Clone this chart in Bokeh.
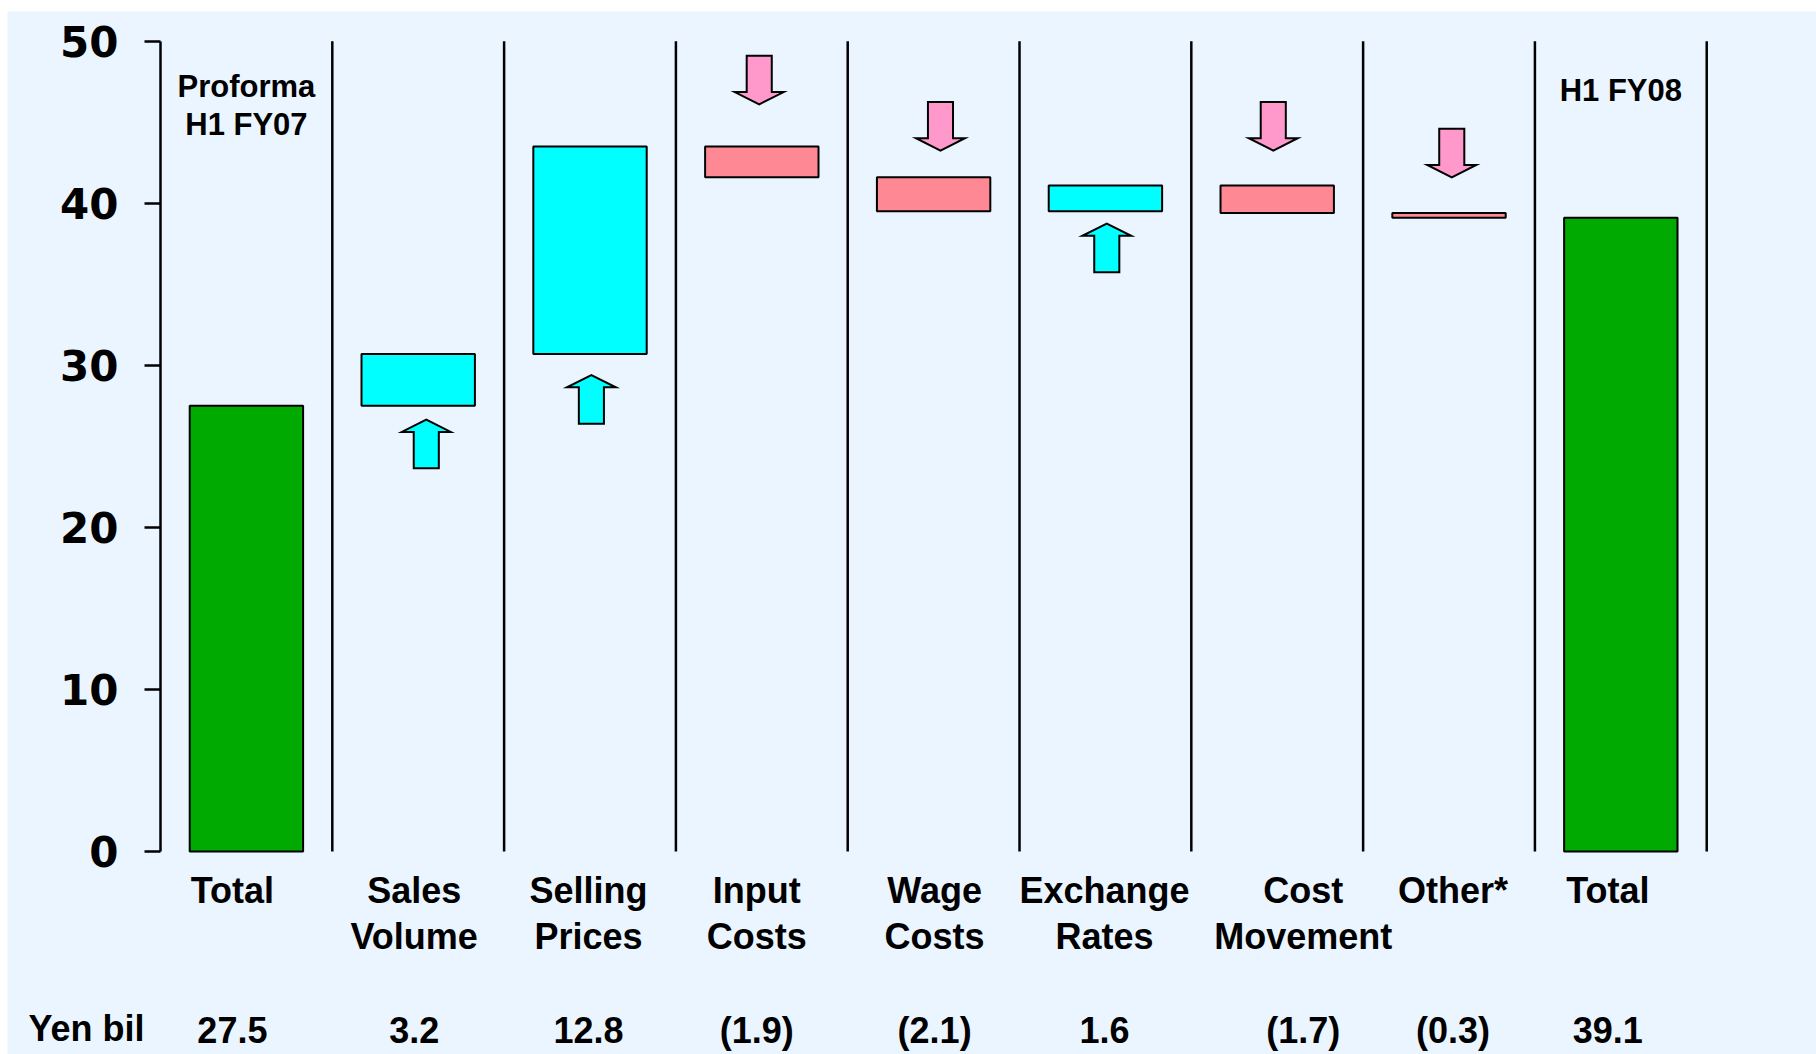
from bokeh.plotting import figure
from bokeh.models import FixedTicker
from bokeh.core.properties import value
from bokeh.embed import file_html
from bokeh.resources import INLINE

# ---- data -------------------------------------------------------------
categories = ["Total", "Sales\nVolume", "Selling\nPrices", "Input\nCosts", "Wage\nCosts",
              "Exchange\nRates", "Cost\nMovement", "Other*", "Total"]
changes = [27.5, 3.2, 12.8, -1.9, -2.1, 1.6, -1.7, -0.3, 39.1]
is_total = [True, False, False, False, False, False, False, False, True]
arrow_tips = [None, 26.65, 29.4, 46.1, 43.25, 38.75, 43.25, 41.6, None]
period_notes = ["Proforma\nH1 FY07", "", "", "", "", "", "", "", "H1 FY08"]
y_ticks = [0, 10, 20, 30, 40, 50]
unit_label = "Yen bil"

# ---- styling / layout -------------------------------------------------
BG = "#EBF5FF"
GREEN = "#00AA00"
CYAN = "#00FFFF"
RED_BAR = "#FF8895"
PINK_ARROW = "#FF99CC"
FONT = value("Liberation Sans")

BAR_W = 0.66
ARROW_LEN = 3.0
HEAD_LEN = 0.76
SHAFT_W = 0.146
HEAD_W = 0.285
arrow_nudge = [0, 0.047, 0.008, -0.015, 0.04, 0.008, -0.023, 0.016, 0]
label_nudge_px = [-14, -4, -1.5, -5, 1, -1, 26, 4, -13]

n = len(categories)
xs = list(range(n))

# waterfall geometry
bottoms, tops, fills = [], [], []
running = 0.0
for c, tot in zip(changes, is_total):
    if tot:
        bottoms.append(0.0)
        tops.append(c)
        fills.append(GREEN)
        running = c
    else:
        new = running + c
        bottoms.append(min(running, new))
        tops.append(max(running, new))
        fills.append(CYAN if c > 0 else RED_BAR)
        running = new

# the frame fills the whole canvas; the value axis sits at the left edge of the first column
p = figure(width=1809, height=1043, x_range=(-1.3906, 9.139), y_range=(-12.52, 51.83),
           x_axis_location=None, output_backend="svg", toolbar_location=None,
           min_border=0, background_fill_color=BG, border_fill_color=BG,
           outline_line_color=None)
p.margin = (11, 0, 0, 7)
p.grid.visible = False

# y axis
ax = p.yaxis[0]
ax.fixed_location = -0.5
ax.ticker = FixedTicker(ticks=y_ticks, minor_ticks=[])
ax.bounds = (0, 50)
ax.axis_line_width = 2.5
ax.axis_line_color = "black"
ax.major_tick_line_width = 2.5
ax.major_tick_line_color = "black"
ax.major_tick_out = 16
ax.major_tick_in = 0
ax.minor_tick_out = 0
ax.minor_tick_in = 0
ax.major_label_standoff = 26
ax.major_label_text_font = "DejaVu Sans"
ax.major_label_text_font_style = "bold"
ax.major_label_text_font_size = "42px"
ax.major_label_text_color = "black"

# column separators
sep_x = [i + 0.5 for i in xs]
p.segment(x0=sep_x, y0=[0] * n, x1=sep_x, y1=[50] * n, line_color="black", line_width=2.5)

# bars
p.quad(left=[x - BAR_W / 2 for x in xs], right=[x + BAR_W / 2 for x in xs],
       bottom=bottoms, top=tops, fill_color=fills, line_color="black", line_width=2)

# block arrows
a_xs, a_ys, a_fill = [], [], []
for i, (tip, c) in enumerate(zip(arrow_tips, changes)):
    if tip is None:
        continue
    cx = i + arrow_nudge[i]
    d = 1 if c > 0 else -1
    base = tip - d * ARROW_LEN
    neck = tip - d * HEAD_LEN
    a_xs.append([cx - SHAFT_W / 2, cx + SHAFT_W / 2, cx + SHAFT_W / 2, cx + HEAD_W / 2,
                 cx, cx - HEAD_W / 2, cx - SHAFT_W / 2])
    a_ys.append([base, base, neck, neck, tip, neck, neck])
    a_fill.append(CYAN if c > 0 else PINK_ARROW)
p.patches(a_xs, a_ys, fill_color=a_fill, line_color="black", line_width=2, line_join="miter")

text_style = dict(text_baseline="alphabetic", text_font=FONT, text_font_style="bold",
                  text_color="black")

# category labels (two lines)
line1 = [c.split("\n")[0] for c in categories]
line2 = [c.split("\n")[1] if "\n" in c else "" for c in categories]
p.text(x=xs, y=[-2.395] * n, text=line1, x_offset=label_nudge_px, text_align="center",
       text_font_size="36px", **text_style)
p.text(x=xs, y=[-5.215] * n, text=line2, x_offset=label_nudge_px, text_align="center",
       text_font_size="36px", **text_style)

# value row
def fmt(v):
    return f"({abs(v):.1f})" if v < 0 else f"{v:.1f}"

p.text(x=xs, y=[-11.015] * n, text=[fmt(v) for v in changes], x_offset=label_nudge_px,
       text_align="center", text_font_size="36px", **text_style)
p.text(x=[-1.2684], y=[-10.9], text=[unit_label], text_align="left",
       text_font_size="36px", **text_style)

# period notes inside the total columns
note_x, note_y, note_t = [], [], []
for i, note in enumerate(period_notes):
    if not note:
        continue
    parts = note.split("\n")
    top_y = 47.19 if len(parts) > 1 else 46.94
    for k, part in enumerate(parts):
        note_x.append(i)
        note_y.append(top_y - 2.33 * k)
        note_t.append(part)
p.text(x=note_x, y=note_y, text=note_t, text_align="center", text_font_size="31px",
       **text_style)

open("out.html", "w").write(file_html(p, INLINE))
